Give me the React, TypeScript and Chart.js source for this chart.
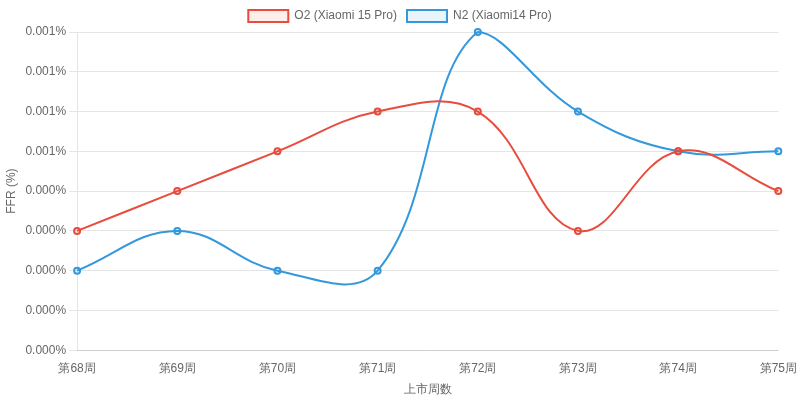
import { useEffect, useRef } from 'react';
import { Chart, registerables } from 'chart.js';
Chart.register(...registerables);

const WEEKS = ['第68周', '第69周', '第70周', '第71周', '第72周', '第73周', '第74周', '第75周'];
const O2_VALUES = [0.0003, 0.0004, 0.0005, 0.0006, 0.0006, 0.0003, 0.0005, 0.0004];
const N2_VALUES = [0.0002, 0.0003, 0.0002, 0.0002, 0.0008, 0.0006, 0.0005, 0.0005];
const SERIES_LABELS = ['O2 (Xiaomi 15 Pro)', 'N2 (Xiaomi14 Pro)'];

function App() {
  const canvasRef = useRef<HTMLCanvasElement>(null);
  const chartRef = useRef<Chart | null>(null);

  useEffect(() => {
    document.body.style.margin = '0';
    if (!canvasRef.current) return;
    if (chartRef.current) chartRef.current.destroy();

    chartRef.current = new Chart(canvasRef.current, {
      type: 'line',
      data: {
        labels: WEEKS,
        datasets: [
          {
            label: SERIES_LABELS[0],
            data: O2_VALUES,
            borderColor: '#e74c3c',
            backgroundColor: 'rgba(231, 76, 60, 0.1)',
            borderWidth: 2,
            tension: 0.4,
            pointRadius: 3,
            pointBorderWidth: 2,
            fill: false,
            clip: false
          },
          {
            label: SERIES_LABELS[1],
            data: N2_VALUES,
            borderColor: '#3498db',
            backgroundColor: 'rgba(52, 152, 219, 0.1)',
            borderWidth: 2,
            tension: 0.4,
            pointRadius: 3,
            pointBorderWidth: 2,
            fill: false,
            clip: false
          }
        ]
      },
      options: {
        animation: false,
        responsive: false,
        plugins: {
          legend: { position: 'top' },
          tooltip: { enabled: false }
        },
        scales: {
          x: {
            grid: { display: false },
            title: { display: true, text: '上市周数' }
          },
          y: {
            min: 0,
            max: 0.0008,
            ticks: {
              stepSize: 0.0001,
              callback: (v) => Number(v).toFixed(3) + '%'
            },
            title: { display: true, text: 'FFR (%)' }
          }
        }
      }
    });

    return () => {
      if (chartRef.current) {
        chartRef.current.destroy();
        chartRef.current = null;
      }
    };
  }, []);

  return (
    <div style={{ width: 800, height: 401 }}>
      <canvas ref={canvasRef} width={800} height={401} />
    </div>
  );
}

export default App;
